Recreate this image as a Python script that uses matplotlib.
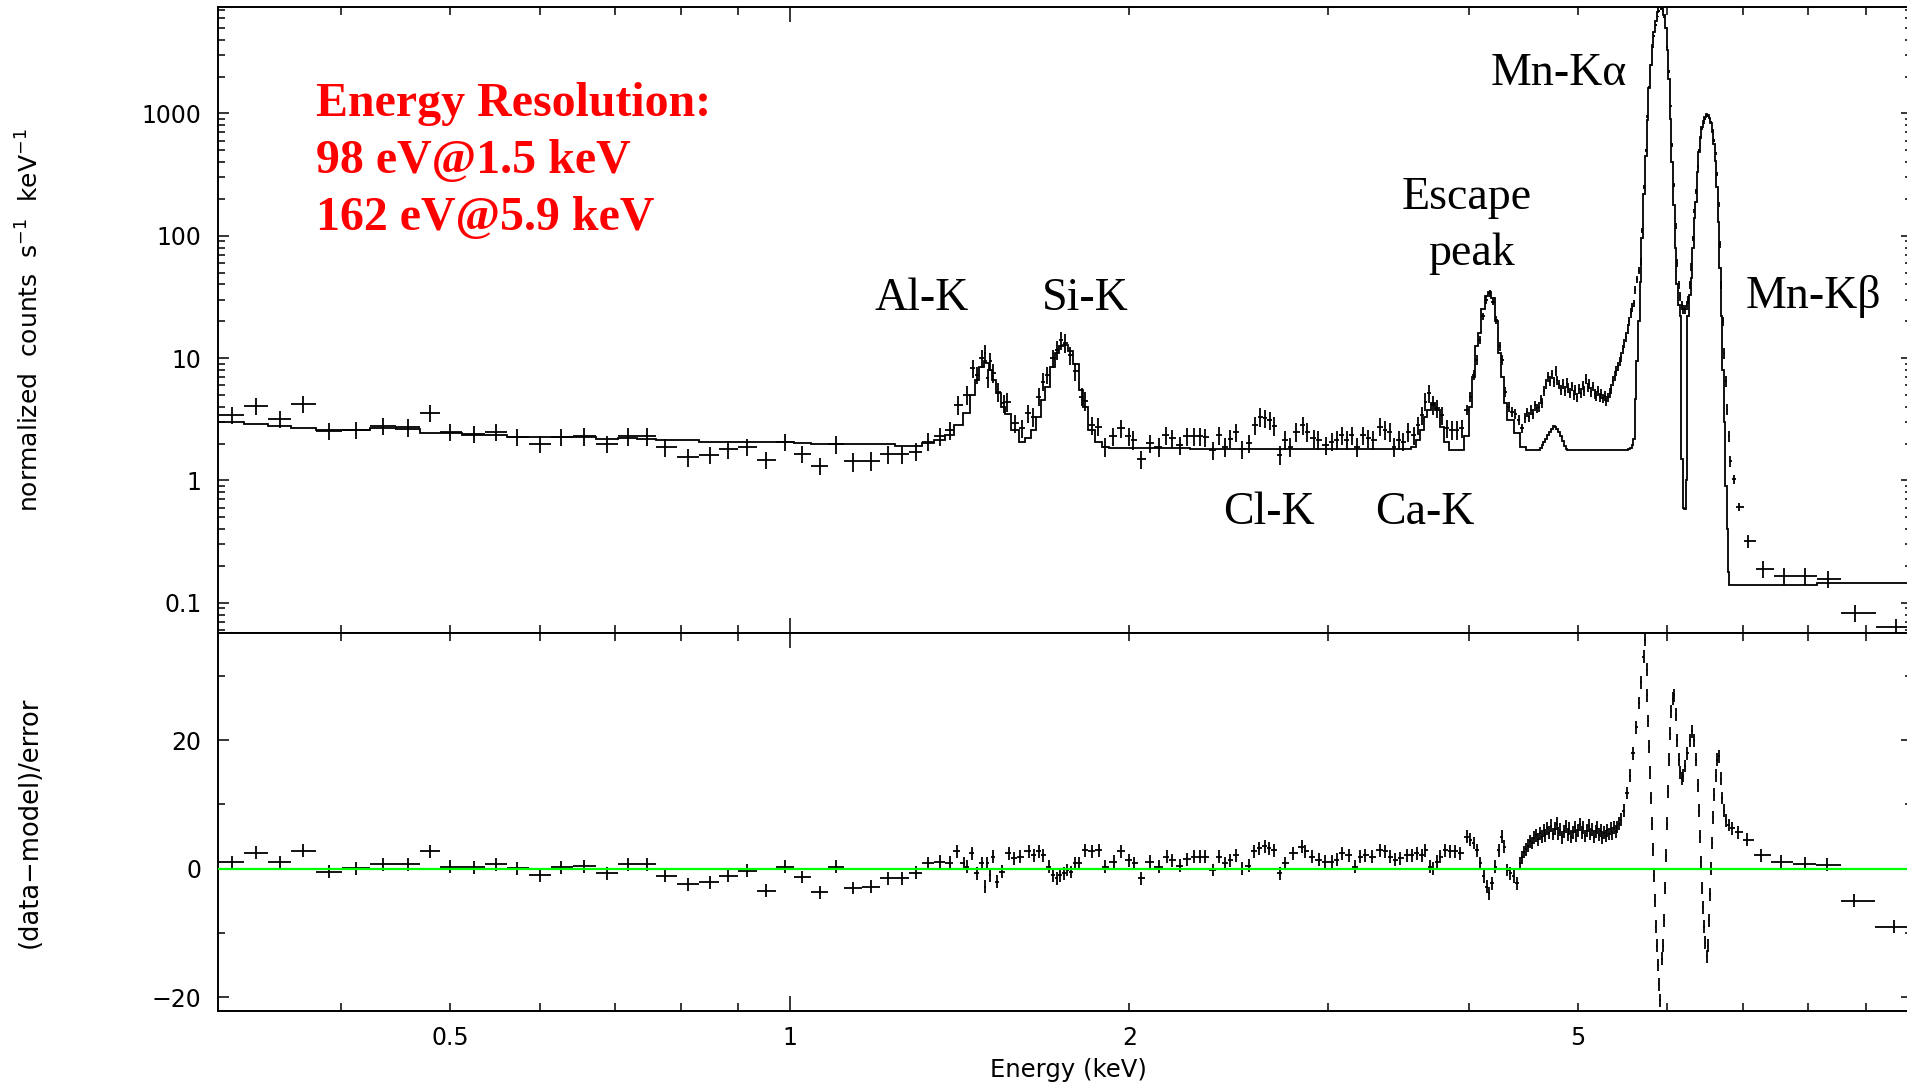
import numpy as np
import matplotlib
matplotlib.use("Agg")
import matplotlib.pyplot as plt
from matplotlib import ticker

plt.rcParams['font.family'] = ['DejaVu Sans']

# Folded spectrum: bin centre (keV), rate (counts/s/keV), 1-sigma error, model
energy = [
    0.320, 0.3365, 0.353, 0.370, 0.390, 0.412, 0.436, 0.459, 0.480, 0.500,
    0.525, 0.549, 0.573, 0.601, 0.627, 0.6575, 0.689, 0.718, 0.747, 0.775,
    0.812, 0.849, 0.881, 0.917, 0.953, 0.991, 1.025, 1.064,
    1.098, 1.137, 1.180, 1.223, 1.257, 1.294, 1.327, 1.359, 1.387, 1.411,
    1.436, 1.453, 1.465, 1.480, 1.490, 1.498, 1.506, 1.514, 1.531, 1.547,
    1.557, 1.585, 1.606, 1.627, 1.644, 1.662, 1.677, 1.690, 1.710, 1.725,
    1.739, 1.754, 1.773, 1.791, 1.815, 1.827, 1.852, 1.876, 1.904, 1.936,
    1.967, 1.997, 2.017, 2.048, 2.087, 2.123, 2.157, 2.182, 2.216, 2.249,
    2.283, 2.311, 2.335, 2.372, 2.404, 2.432, 2.457, 2.485, 2.516, 2.556,
    2.586, 2.613, 2.640, 2.663, 2.689, 2.718, 2.750, 2.778, 2.812, 2.851,
    2.877, 2.913, 2.942, 2.989, 3.024, 3.055, 3.087, 3.118, 3.150, 3.183,
    3.222, 3.259, 3.292, 3.338, 3.372, 3.402, 3.430, 3.465, 3.500, 3.536,
    3.573, 3.609, 3.634, 3.659, 3.691, 3.721, 3.752, 3.785, 3.824, 3.864,
    3.904, 3.944,
    3.985, 4.012, 4.039, 4.067, 4.089, 4.117, 4.146, 4.173, 4.202, 4.230,
    4.259, 4.280, 4.309, 4.338, 4.368, 4.398, 4.428, 4.458, 4.487,
    4.505, 4.523, 4.541, 4.559, 4.577, 4.595, 4.613, 4.631, 4.649, 4.667,
    4.685, 4.703, 4.721, 4.739, 4.757, 4.775, 4.793, 4.811, 4.829, 4.847,
    4.865, 4.883, 4.901, 4.919, 4.937, 4.955, 4.973, 4.991, 5.009, 5.027,
    5.045, 5.063, 5.081, 5.099, 5.117, 5.135, 5.153, 5.171, 5.189, 5.207,
    5.225, 5.243, 5.261, 5.279, 5.297, 5.315, 5.333, 5.351, 5.369, 5.387,
    5.405, 5.423, 5.441, 5.459, 5.477, 5.495, 5.513, 5.531, 5.549, 5.567,
    5.585,
    5.60, 5.62, 5.64, 5.66, 5.68, 5.70, 5.72, 5.74, 5.76, 5.78,
    5.80, 5.82, 5.84, 5.86, 5.88, 5.90, 5.92, 5.94, 5.96, 5.98,
    6.00, 6.02, 6.04, 6.06, 6.08, 6.10, 6.12, 6.14, 6.16, 6.18,
    6.20, 6.22, 6.24, 6.26, 6.28, 6.30, 6.32, 6.34, 6.36, 6.38,
    6.40, 6.42, 6.44, 6.46, 6.48, 6.50, 6.52, 6.54, 6.56, 6.58,
    6.60, 6.62, 6.64, 6.66, 6.68, 6.70, 6.72, 6.74, 6.76, 6.78,
    6.80, 6.82,
    6.87, 6.94, 7.08, 7.30, 7.61, 7.95, 8.32, 8.80, 9.56,
]

rate = [
    3.44, 4.07, 3.19, 4.23, 2.55, 2.59, 2.81, 2.72, 3.59, 2.51,
    2.40, 2.51, 2.26, 1.99, 2.26, 2.30, 1.99, 2.29, 2.29, 1.87,
    1.55, 1.62, 1.80, 1.89, 1.47, 2.08, 1.64, 1.31,
    1.99, 1.43, 1.45, 1.65, 1.65, 1.72, 2.08, 2.29, 2.59, 4.16,
    5.02, 8.32, 7.3, 10.0, 11.0, 6.9, 9.4, 7.6, 5.33, 4.28,
    4.4, 2.94, 2.68, 3.55, 3.33, 4.85, 6.44, 7.3, 10.0, 11.7,
    14.1, 13.3, 10.6, 7.8, 4.85, 4.5, 2.85, 2.76, 1.89, 2.29,
    2.68, 2.29, 2.15, 1.49, 2.02, 1.89, 2.36, 2.22, 1.95, 2.29,
    2.31, 2.29, 2.25, 1.76, 2.35, 1.89, 2.2, 2.48, 1.80, 2.02,
    2.85, 3.33, 3.25, 3.13, 2.80, 1.62, 2.15, 1.89, 2.51, 2.85,
    2.51, 2.22, 2.15, 1.95, 2.08, 2.15, 2.36, 2.15, 2.36, 1.89,
    2.36, 2.22, 2.15, 2.76, 2.60, 2.51, 1.89, 2.15, 2.08, 2.51,
    2.36, 2.85, 3.44, 4.42, 5.17, 4.16, 3.90, 3.44, 2.68, 2.60,
    2.60, 2.68,
    3.78, 4.85, 7.3, 9.68, 14.1, 21.9, 29.9, 33.9, 29.0, 20.6,
    12.5, 9.68, 5.33, 4.02, 3.66, 3.5, 3.13, 2.68, 3.25,
    3.6, 3.3, 3.8, 3.5, 4.1, 3.9, 4.0, 4.6, 4.3, 5.4,
    6.2, 7.0, 6.5, 7.4, 6.4, 7.9, 6.6, 6.1, 5.5, 6.2,
    5.4, 6.3, 5.7, 5.2, 5.9, 5.0, 5.5, 4.8, 5.6, 5.2,
    6.0, 5.4, 6.8, 5.8, 6.2, 5.3, 5.9, 5.1, 4.9, 5.4,
    4.8, 5.1, 4.7, 4.9, 4.5, 4.8, 5.2, 5.6, 6.5, 7.2,
    7.9, 8.6, 9.4, 10.3, 11.8, 13.2, 15.0, 17.3, 20.0, 23.5,
    26,
    28, 36, 44, 52, 62, 110, 250, 500, 950, 1650,
    2500, 3500, 4300, 5300, 6200, 6900, 7100, 6900, 6100, 5000,
    3500, 2200, 1150, 550, 260, 120, 60, 40, 32, 27,
    25, 25, 27, 30, 40, 56, 95, 160, 230, 370,
    500, 640, 750, 840, 900, 950, 950, 900, 850, 720,
    600, 470, 320, 180, 85, 40, 20, 11, 6.5, 3.8,
    2.3, 1.43,
    1.02, 0.61, 0.32, 0.19, 0.166, 0.166, 0.156, 0.083, 0.064,
]

rate_err = [
    0.55, 0.65, 0.51, 0.68, 0.41, 0.41, 0.45, 0.44, 0.57, 0.40,
    0.38, 0.40, 0.36, 0.32, 0.36, 0.37, 0.32, 0.37, 0.37, 0.30,
    0.25, 0.26, 0.29, 0.30, 0.24, 0.33, 0.26, 0.21,
    0.34, 0.25, 0.25, 0.28, 0.28, 0.29, 0.35, 0.39, 0.44, 0.71,
    0.85, 1.4, 1.2, 1.7, 1.9, 1.2, 1.6, 1.3, 0.91, 0.73,
    0.75, 0.50, 0.46, 0.60, 0.57, 0.82, 1.1, 1.2, 1.7, 2.0,
    2.4, 2.3, 1.8, 1.3, 0.82, 0.77, 0.48, 0.47, 0.32, 0.39,
    0.46, 0.39, 0.37, 0.25, 0.34, 0.32, 0.40, 0.38, 0.33, 0.39,
    0.39, 0.39, 0.38, 0.30, 0.40, 0.32, 0.37, 0.42, 0.31, 0.34,
    0.48, 0.57, 0.55, 0.53, 0.48, 0.28, 0.37, 0.32, 0.43, 0.48,
    0.43, 0.38, 0.37, 0.33, 0.35, 0.37, 0.40, 0.37, 0.40, 0.32,
    0.40, 0.38, 0.37, 0.47, 0.44, 0.43, 0.32, 0.37, 0.35, 0.43,
    0.40, 0.48, 0.58, 0.75, 0.88, 0.71, 0.66, 0.58, 0.46, 0.44,
    0.44, 0.46,
    0.34, 0.44, 0.66, 0.87, 1.1, 1.6, 2.0, 2.2, 2.0, 1.6,
    1.1, 0.87, 0.48, 0.36, 0.33, 0.32, 0.28, 0.24, 0.29,
    0.32, 0.30, 0.34, 0.32, 0.37, 0.35, 0.36, 0.41, 0.39, 0.49,
    0.56, 0.63, 0.59, 0.67, 0.58, 0.71, 0.59, 0.55, 0.50, 0.56,
    0.49, 0.57, 0.51, 0.47, 0.53, 0.45, 0.50, 0.43, 0.50, 0.47,
    0.54, 0.49, 0.61, 0.52, 0.56, 0.48, 0.53, 0.46, 0.44, 0.49,
    0.43, 0.46, 0.42, 0.44, 0.41, 0.43, 0.47, 0.50, 0.59, 0.65,
    0.71, 0.77, 0.85, 0.93, 1.06, 1.2, 1.35, 1.55, 1.8, 2.1,
    2.3,
    2.0, 2.5, 3.0, 3.5, 4.0, 5, 9, 15, 25, 35,
    45, 60, 70, 80, 90, 100, 100, 100, 90, 80,
    60, 45, 30, 18, 10, 6, 4, 3, 2.5, 2.2,
    2.0, 2.0, 2.2, 2.3, 3, 4, 5, 7, 9, 12,
    15, 18, 20, 22, 23, 24, 24, 23, 22, 20,
    17, 14, 11, 8, 5, 3, 1.8, 1.1, 0.7, 0.4,
    0.25, 0.15,
    0.08, 0.05, 0.04, 0.03, 0.026, 0.026, 0.025, 0.013, 0.010,
]

model = [
    3.01, 2.90, 2.80, 2.68, 2.59, 2.59, 2.66, 2.62, 2.46, 2.46,
    2.36, 2.36, 2.26, 2.26, 2.25, 2.25, 2.18, 2.22, 2.20, 2.15,
    2.15, 2.08, 2.08, 2.08, 2.08, 2.06, 2.04, 2.00,
    1.98, 1.98, 1.98, 1.98, 1.93, 1.93, 2.02, 2.15, 2.36, 2.85,
    3.57, 5.0, 6.64, 8.5, 9.4, 9.2, 8.0, 6.64, 5.17, 4.02,
    3.5, 2.6, 2.08, 2.22, 2.59, 3.33, 4.55, 5.86, 8.5, 11.0,
    12.5, 12.8, 11.5, 9.0, 5.5, 4.0, 2.6, 2.05, 1.88, 1.84,
    1.84, 1.83, 1.83, 1.83, 1.83, 1.83, 1.83, 1.83, 1.83, 1.83,
    1.82, 1.82, 1.82, 1.82, 1.82, 1.82, 1.82, 1.82, 1.82, 1.82,
    1.82, 1.82, 1.82, 1.82, 1.82, 1.82, 1.82, 1.82, 1.82, 1.82,
    1.81, 1.81, 1.81, 1.81, 1.81, 1.81, 1.81, 1.81, 1.81, 1.81,
    1.81, 1.81, 1.81, 1.81, 1.81, 1.81, 1.81, 1.81, 1.81, 1.81,
    1.86, 2.15, 2.6, 3.3, 3.78, 4.3, 3.78, 2.76, 2.08, 1.78,
    1.78, 1.78,
    2.29, 4.02, 7.06, 12.5, 16, 25, 32, 35, 31, 20,
    11, 7.06, 4.28, 3.13, 3.13, 2.44, 2.44, 1.89, 1.89,
    1.78, 1.78, 1.78, 1.78, 1.78, 1.78, 1.78, 1.85, 1.95, 2.05,
    2.2, 2.35, 2.5, 2.65, 2.8, 2.75, 2.65, 2.5, 2.3, 2.1,
    1.9, 1.8, 1.78, 1.78, 1.78, 1.78, 1.78, 1.78, 1.78, 1.78,
    1.78, 1.78, 1.78, 1.78, 1.78, 1.78, 1.78, 1.78, 1.78, 1.78,
    1.78, 1.78, 1.78, 1.78, 1.78, 1.78, 1.78, 1.78, 1.78, 1.78,
    1.78, 1.78, 1.78, 1.78, 1.78, 1.78, 1.78, 1.79, 1.80, 1.85,
    1.95,
    2.2, 4.6, 9.5, 20, 42, 95, 220, 450, 880, 1600,
    2500, 3600, 4600, 5700, 6700, 7400, 7600, 7300, 6400, 5000,
    3300, 1900, 900, 400, 180, 80, 40, 27, 22, 1.5,
    0.6, 0.59, 1.0, 22, 33, 45, 80, 140, 190, 330,
    480, 640, 770, 870, 940, 990, 970, 910, 840, 700,
    560, 412, 250, 130, 55, 22, 8, 3, 0.9, 0.4,
    0.18, 0.14,
    0.14, 0.14, 0.14, 0.14, 0.14, 0.14, 0.145, 0.145, 0.145,
]

# Residuals (data-model)/error
res_energy = [
    0.320, 0.3365, 0.353, 0.370, 0.390, 0.412, 0.436, 0.459, 0.480, 0.500,
    0.525, 0.549, 0.573, 0.601, 0.627, 0.6575, 0.689, 0.718, 0.747, 0.775,
    0.812, 0.849, 0.881, 0.917, 0.953, 0.991, 1.025, 1.064,
    1.098, 1.137, 1.180, 1.223, 1.257, 1.294, 1.327, 1.359, 1.387, 1.406,
    1.426, 1.436, 1.450, 1.465, 1.480, 1.490, 1.496, 1.505, 1.513, 1.526,
    1.541, 1.563, 1.580, 1.600, 1.628, 1.645, 1.662, 1.677, 1.696, 1.712,
    1.725, 1.736, 1.750, 1.762, 1.777, 1.790, 1.806, 1.827, 1.852, 1.878,
    1.903, 1.937, 1.967, 1.998, 2.020, 2.049, 2.085, 2.124, 2.158, 2.183,
    2.216, 2.250, 2.283, 2.311, 2.335, 2.371, 2.404, 2.432, 2.457, 2.486,
    2.516, 2.552, 2.580, 2.608, 2.636, 2.660, 2.686, 2.720, 2.748, 2.796,
    2.845, 2.864, 2.903, 2.943, 2.983, 3.024, 3.055, 3.087, 3.129, 3.172,
    3.205, 3.238, 3.282, 3.338, 3.372, 3.407, 3.442, 3.477, 3.525, 3.561,
    3.597, 3.634, 3.659, 3.696, 3.721, 3.747, 3.773, 3.812, 3.851, 3.890,
    3.930, 3.985, 4.012, 4.039, 4.067, 4.095, 4.123, 4.151, 4.165, 4.194,
    4.222, 4.251, 4.280, 4.300, 4.324, 4.353, 4.383, 4.413,
    4.443, 4.461, 4.479, 4.497, 4.515, 4.533, 4.551, 4.569, 4.587, 4.605,
    4.623, 4.641, 4.659, 4.677, 4.695, 4.713, 4.731, 4.749, 4.767, 4.785,
    4.803, 4.821, 4.839, 4.857, 4.875, 4.893, 4.911, 4.929, 4.947, 4.965,
    4.983, 5.001, 5.019, 5.037, 5.055, 5.073, 5.091, 5.109, 5.127, 5.145,
    5.163, 5.181, 5.199, 5.217, 5.235, 5.253, 5.271, 5.289, 5.307, 5.325,
    5.343, 5.361, 5.379, 5.397, 5.415, 5.433,
    5.457, 5.490, 5.524, 5.560, 5.591, 5.630, 5.664, 5.690, 5.714, 5.735,
    5.750, 5.760, 5.770, 5.780, 5.790, 5.800, 5.812, 5.824, 5.836, 5.848,
    5.860, 5.872, 5.884, 5.896, 5.908,
    5.935, 5.950, 5.962, 5.975, 5.987, 6.000, 6.012, 6.024, 6.036, 6.050,
    6.065, 6.084, 6.100, 6.120, 6.140, 6.160, 6.180, 6.200, 6.220, 6.250,
    6.280, 6.310, 6.340, 6.360, 6.380,
    6.400, 6.410, 6.420, 6.435, 6.450, 6.465, 6.480, 6.500, 6.515, 6.530,
    6.545, 6.560, 6.575, 6.590, 6.605, 6.620, 6.640, 6.663, 6.690, 6.710,
    6.730, 6.764, 6.800, 6.848, 6.933, 7.063, 7.268, 7.565, 7.953, 8.308,
    8.789, 9.530,
]

resid = [
    1.0, 2.5, 1.0, 2.8, -0.45, 0.1, 0.7, 0.7, 2.7, 0.3,
    0.2, 0.7, 0.1, -1.0, 0.2, 0.4, -0.7, 0.7, 0.7, -1.1,
    -2.4, -2.1, -1.1, -0.3, -3.4, 0.3, -1.3, -3.7,
    0.3, -3.0, -2.8, -1.5, -1.5, -0.6, 0.85, 1.1, 0.95, 2.7,
    0.85, 0.3, 2.4, -0.7, 0.85, -2.8, 0.9, -1.0, 1.9, -2.0,
    -0.45, 2.4, 1.6, 1.9, 2.7, 2.1, 2.7, 2.1, 0.3, -1.0,
    -1.5, -1.0, -0.7, -0.2, -0.5, 0.85, 0.85, 2.9, 2.7, 2.9,
    0.3, 1.1, 2.7, 1.3, 0.85, -1.5, 1.1, 0.3, 1.9, 1.3,
    0.5, 1.5, 1.9, 1.9, 1.9, -0.2, 1.9, 0.85, 1.3, 2.1,
    0.0, 0.5, 2.7, 3.2, 3.5, 3.2, 2.9, -0.7, 0.85, 2.4,
    3.4, 2.7, 1.9, 1.4, 1.1, 1.1, 1.4, 2.4, 2.1, 0.3,
    1.9, 2.1, 1.9, 2.9, 2.7, 1.9, 1.4, 1.6, 2.1, 2.1,
    2.4, 2.1, 2.9, 0.3, 0.0, 1.1, 1.9, 2.9, 2.7, 2.7,
    2.4, 5.0, 4.5, 4.0, 2.9, 0.85, -1.2, -2.8, -3.8, -2.3,
    0.3, 2.9, 5.0, 3.4, -0.2, -0.7, -1.2, -2.3,
    0.85, 1.8, 2.6, 3.0, 3.6, 4.3, 4.0, 4.8, 5.2, 4.6,
    5.5, 5.0, 6.0, 5.2, 6.3, 5.6, 6.7, 5.4, 6.2, 7.0,
    5.5, 6.1, 4.9, 5.8, 6.6, 5.3, 6.2, 5.0, 5.7, 6.5,
    5.2, 6.0, 6.9, 5.6, 6.4, 5.1, 5.9, 6.7, 5.4, 6.1,
    5.0, 5.8, 6.4, 5.3, 5.9, 4.8, 5.6, 5.1, 6.0, 5.4,
    6.2, 5.5, 6.4, 5.8, 6.5, 7.0,
    7.6, 9.0, 11.8, 14.5, 18, 22, 25.8, 29, 33, 35.6,
    31, 27, 23, 19, 15, 11, 7, 3, -1, -5,
    -9, -12, -15, -18, -20.5,
    -14, -12, -8, -3, 2, 7, 12, 17, 21, 24.5,
    26.5, 27, 24, 20, 17, 15, 14, 14.5, 16, 18,
    20, 21.4, 20, 17, 13,
    9, 5, 1, -3, -6, -9, -11.5, -13.6, -12, -8,
    -4, 0, 4, 8, 11.5, 14.5, 17, 17.5, 14, 11,
    9, 7.5, 6.8, 6.3, 5.7, 4.5, 2.1, 1.1, 0.75, 0.6,
    -5.0, -9.0,
]


def bin_edges(centres):
    c = np.asarray(centres, dtype=float)
    mid = 0.5 * (c[1:] + c[:-1])
    return np.concatenate([[2 * c[0] - mid[0]], mid, [2 * c[-1] - mid[-1]]])


e = np.array(energy)
edges = bin_edges(e)
re = np.array(res_energy)
redges = bin_edges(re)

fig = plt.figure(figsize=(19.08, 10.85), dpi=100)
ax1 = fig.add_axes([0.1143, 0.4166, 0.8878, 0.5770])
ax2 = fig.add_axes([0.1143, 0.0682, 0.8878, 0.3484])

# spectrum + model
ax1.errorbar(e, rate, xerr=[e - edges[:-1], edges[1:] - e], yerr=rate_err,
             fmt='none', ecolor='black', elinewidth=1.3, capsize=0)
ax1.stairs(model, edges, color='black', linewidth=1.3, baseline=None)

# residuals
ax2.errorbar(re, resid, xerr=[re - redges[:-1], redges[1:] - re], yerr=1.0,
             fmt='none', ecolor='black', elinewidth=1.3, capsize=0)
ax2.axhline(0, color='#00ff00', linewidth=1.6, zorder=3)

minor_e = [0.4, 0.5, 0.6, 0.7, 0.8, 0.9, 2, 3, 4, 5, 6, 7, 8, 9]


def energy_label(v, pos):
    return f'{v:g}' if v in (0.5, 1, 2, 5) else ''


for ax in (ax1, ax2):
    ax.set_xscale('log')
    ax.set_xlim(0.3112, 9.886)
    ax.xaxis.set_major_locator(ticker.FixedLocator([1]))
    ax.xaxis.set_minor_locator(ticker.FixedLocator(minor_e))
    ax.tick_params(axis='both', which='both', direction='in', top=True,
                   right=True, width=1.1, labelsize=17)
    ax.tick_params(axis='x', which='major', length=10.5, pad=11)
    ax.tick_params(axis='x', which='minor', length=6, pad=11)
    ax.tick_params(axis='y', which='major', length=8, pad=12)
    ax.tick_params(axis='y', which='minor', length=5, pad=12)
    for sp in ax.spines.values():
        sp.set_linewidth(1.4)

ax1.set_yscale('log')
ax1.set_ylim(0.0567, 7413)
ax1.yaxis.set_major_locator(ticker.LogLocator(base=10, numticks=20))
ax1.yaxis.set_minor_locator(ticker.LogLocator(base=10, subs=np.arange(2, 10), numticks=20))
ax1.yaxis.set_major_formatter(ticker.FuncFormatter(lambda v, p: f'{v:g}'))
ax1.yaxis.set_minor_formatter(ticker.NullFormatter())
ax1.tick_params(axis='x', which='both', labelbottom=False)

ax2.set_ylim(-22.15, 36.7)
ax2.yaxis.set_major_locator(ticker.MultipleLocator(20))
ax2.yaxis.set_minor_locator(ticker.MultipleLocator(10))
ax2.xaxis.set_major_formatter(ticker.FuncFormatter(energy_label))
ax2.xaxis.set_minor_formatter(ticker.FuncFormatter(energy_label))

fig.text(30 / 1908, 1 - 320 / 1085, 'normalized  counts  s$^{-1}$  keV$^{-1}$',
         rotation=90, ha='center', va='center', fontsize=18)
fig.text(30 / 1908, 1 - 822 / 1085, '(data\u2212model)/error',
         rotation=90, ha='center', va='center', fontsize=18.5)
fig.text(1068 / 1908, 1 - 1070 / 1085, 'Energy (keV)',
         ha='center', va='center', fontsize=17.5)

# line identifications
serif = 'Liberation Serif'
lines = [
    ('Al-K', 1.310, 24.5),
    ('Si-K', 1.829, 24.5),
    ('Cl-K', 2.660, 0.438),
    ('Ca-K', 3.655, 0.438),
    ('Escape', 3.985, 164),
    ('peak', 4.02, 58),
    ('Mn-K\u03b1', 4.81, 1717),
    ('Mn-K\u03b2', 8.08, 25.8),
]
for label, x, y in lines:
    ax1.text(x, y, label, ha='center', va='baseline', fontsize=33,
             family=serif, color='black')

resolution = ['Energy Resolution:', '98 eV@1.5 keV', '162 eV@5.9 keV']
res_y = [958, 324, 110.7]
for label, y in zip(resolution, res_y):
    ax1.text(0.380, y, label, ha='left', va='baseline', fontsize=34.5,
             fontweight='bold', family=serif, color='#ff0000')

fig.savefig('out.png', dpi=100)
